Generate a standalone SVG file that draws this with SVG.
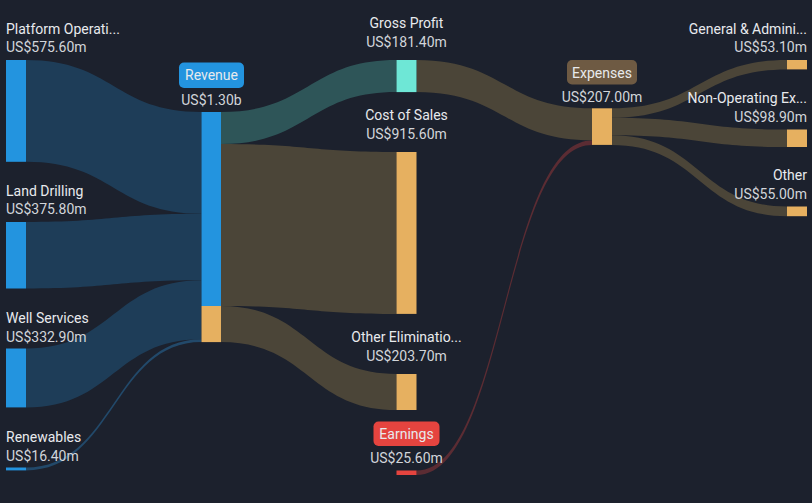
<svg xmlns="http://www.w3.org/2000/svg" width="812" height="503" viewBox="0 0 812 503">
<style>
text{font-family:Roboto,"Liberation Sans",sans-serif;font-size:14px}
.n{fill:#e8eaed}
.v{fill:#d2d5da}
.m{text-anchor:middle}
.e{text-anchor:end}
.fb{fill:#1e3d58}
.ft{fill:#2e5558}
.fc{fill:#4b4538}
.fr{fill:#5b2c33}
.blue{fill:#2394df}
.org{fill:#e6b060}
</style>
<rect width="812" height="503" fill="#1c212d"/>
<g id="connectors">
<path class="fb" d="M26,60 C113.75,60 113.75,112 201.5,112 L201.5,213.8 C113.75,213.8 113.75,161.8 26,161.8 Z"/>
<path class="fb" d="M26,222 C113.75,222 113.75,213.8 201.5,213.8 L201.5,280.3 C113.75,280.3 113.75,288.5 26,288.5 Z"/>
<path class="fb" d="M26,348.5 C113.75,348.5 113.75,280.3 201.5,280.3 L201.5,339.2 C113.75,339.2 113.75,407.4 26,407.4 Z"/>
<path class="fb" d="M26,467.5 C113.75,467.5 113.75,339.2 201.5,339.2 L201.5,342.1 C113.75,342.1 113.75,470.4 26,470.4 Z" style="fill:#22496a"/>
<path class="ft" d="M221,112 C308.75,112 308.75,60 396.5,60 L396.5,92.1 C308.75,92.1 308.75,144.1 221,144.1 Z"/>
<path class="fc" d="M221,144.1 C308.75,144.1 308.75,152 396.5,152 L396.5,313.9 C308.75,313.9 308.75,306 221,306 Z"/>
<path class="fc" d="M221,306 C308.75,306 308.75,374 396.5,374 L396.5,410 C308.75,410 308.75,342.1 221,342.1 Z"/>
<path class="fc" d="M416.5,60 C504.25,60 504.25,108.3 592,108.3 L592,140.4 C504.25,140.4 504.25,92.1 416.5,92.1 Z"/>
<path class="fr" d="M416.5,470.5 C504.25,470.5 504.25,140.4 592,140.4 L592,144.9 C504.25,144.9 504.25,475 416.5,475 Z"/>
<path class="fc" d="M612,108.3 C699.5,108.3 699.5,60 787,60 L787,69.4 C699.5,69.4 699.5,117.7 612,117.7 Z"/>
<path class="fc" d="M612,117.7 C699.5,117.7 699.5,129.5 787,129.5 L787,147 C699.5,147 699.5,135.2 612,135.2 Z"/>
<path class="fc" d="M612,135.2 C699.5,135.2 699.5,206.5 787,206.5 L787,216.2 C699.5,216.2 699.5,144.9 612,144.9 Z"/>
</g>
<g id="platform">
<rect class="blue" x="6" y="60" width="20" height="101.8"/>
<text class="n" x="6" y="34">Platform Operati...</text>
<text class="v" x="6" y="52">US$575.60m</text>
</g>
<g id="land-drilling">
<rect class="blue" x="6" y="222" width="20" height="66.5"/>
<text class="n" x="6" y="196">Land Drilling</text>
<text class="v" x="6" y="214">US$375.80m</text>
</g>
<g id="well-services">
<rect class="blue" x="6" y="348.5" width="20" height="58.9"/>
<text class="n" x="6" y="323">Well Services</text>
<text class="v" x="6" y="342">US$332.90m</text>
</g>
<g id="renewables">
<rect class="blue" x="6" y="467.5" width="20" height="2.9"/>
<text class="n" x="6" y="442">Renewables</text>
<text class="v" x="6" y="461">US$16.40m</text>
</g>
<g id="revenue">
<rect class="blue" x="201.5" y="112" width="19.5" height="194"/>
<rect class="org" x="201.5" y="306" width="19.5" height="36.1"/>
<rect x="179" y="62.5" width="65" height="25.5" rx="5" fill="#2394df"/>
<text class="n m" x="211.5" y="80">Revenue</text>
<text class="v m" x="211.5" y="105">US$1.30b</text>
</g>
<g id="gross-profit">
<rect x="396.5" y="60" width="20" height="32.1" fill="#6ee7d6"/>
<text class="n m" x="406.5" y="28">Gross Profit</text>
<text class="v m" x="406.5" y="47">US$181.40m</text>
</g>
<g id="cost-of-sales">
<rect class="org" x="396.5" y="152" width="20" height="161.9"/>
<text class="n m" x="406.5" y="120">Cost of Sales</text>
<text class="v m" x="406.5" y="139">US$915.60m</text>
</g>
<g id="other-eliminations">
<rect class="org" x="396.5" y="374" width="20" height="36"/>
<text class="n m" x="406.5" y="342">Other Eliminatio...</text>
<text class="v m" x="406.5" y="361">US$203.70m</text>
</g>
<g id="earnings">
<rect x="396.5" y="470.5" width="20" height="4.5" fill="#e5443f"/>
<rect x="373.5" y="421.5" width="66" height="24.5" rx="5" fill="#e5443f"/>
<text class="n m" x="406.5" y="438.5">Earnings</text>
<text class="v m" x="406.5" y="463">US$25.60m</text>
</g>
<g id="expenses">
<rect class="org" x="592" y="108.3" width="20" height="36.6"/>
<rect x="567" y="60" width="70" height="24.5" rx="5" fill="#6e5a43"/>
<text class="n m" x="602" y="77.5">Expenses</text>
<text class="v m" x="602" y="102">US$207.00m</text>
</g>
<g id="general-admin">
<rect class="org" x="787" y="60" width="20" height="9.4"/>
<text class="n e" x="807" y="34">General &amp; Admini...</text>
<text class="v e" x="807" y="52">US$53.10m</text>
</g>
<g id="non-operating">
<rect class="org" x="787" y="129.5" width="20" height="17.5"/>
<text class="n e" x="807" y="103">Non-Operating Ex...</text>
<text class="v e" x="807" y="122">US$98.90m</text>
</g>
<g id="other">
<rect class="org" x="787" y="206.5" width="20" height="9.7"/>
<text class="n e" x="807" y="180">Other</text>
<text class="v e" x="807" y="199">US$55.00m</text>
</g>
</svg>
